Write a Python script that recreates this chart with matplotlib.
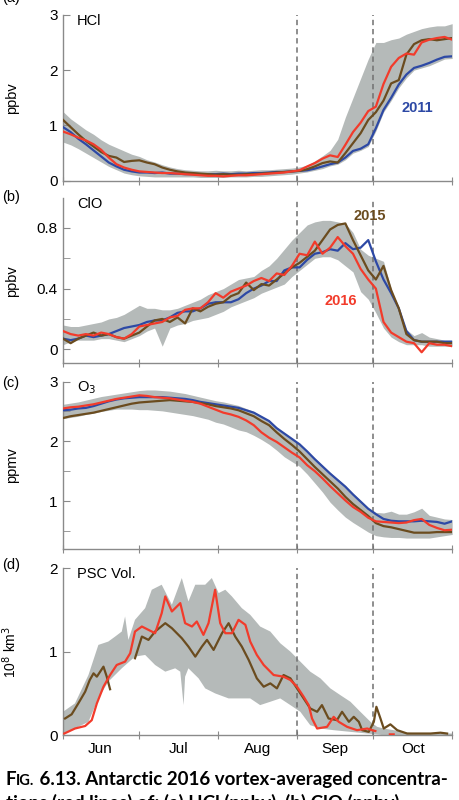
import numpy as np
import matplotlib.pyplot as plt

plt.rcParams["font.family"] = ["Liberation Sans", "DejaVu Sans"]
plt.rcParams["font.size"] = 10.5

RED = "#f23b2b"
BLUE = "#2d49a5"
BROWN = "#6b4c1f"
BAND = "#b5bab9"
AXIS = "#8a8a8a"

# x axis: days since 1 June, one value every 3 days
days = list(range(0, 154, 3))
month_starts = [0, 30, 61, 92, 122, 153]
month_mid = [14.5, 45.5, 76.5, 107, 137.5]
month_names = ["Jun", "Jul", "Aug", "Sep", "Oct"]
marker_days = [92, 122]

# (a) HCl, ppbv
hcl_lo = [0.70, 0.65, 0.58, 0.50, 0.42, 0.34, 0.26, 0.20, 0.14, 0.11,
          0.09, 0.08, 0.07, 0.07, 0.07, 0.07, 0.07, 0.07, 0.06, 0.06,
          0.06, 0.06, 0.07, 0.07, 0.07, 0.08, 0.08, 0.09, 0.10, 0.11,
          0.12, 0.14, 0.16, 0.19, 0.22, 0.27, 0.30, 0.38, 0.50, 0.55,
          0.62, 0.90, 1.24, 1.45, 1.68, 1.86, 2.00, 2.04, 2.08, 2.14, 2.20, 2.21]
hcl_hi = [1.25, 1.12, 1.02, 0.92, 0.84, 0.74, 0.66, 0.60, 0.54, 0.48,
          0.44, 0.38, 0.34, 0.29, 0.25, 0.22, 0.20, 0.19, 0.18, 0.18,
          0.19, 0.18, 0.18, 0.19, 0.18, 0.19, 0.20, 0.20, 0.21, 0.22,
          0.23, 0.25, 0.28, 0.36, 0.45, 0.55, 0.75, 1.15, 1.50, 1.85,
          2.20, 2.50, 2.50, 2.55, 2.58, 2.65, 2.70, 2.75, 2.78, 2.80, 2.80, 2.84]
hcl_2016 = [0.89, 0.84, 0.78, 0.73, 0.66, 0.56, 0.42, 0.30, 0.24, 0.20,
            0.17, 0.16, 0.15, 0.14, 0.14, 0.13, 0.12, 0.11, 0.10, 0.09,
            0.09, 0.08, 0.09, 0.10, 0.10, 0.11, 0.12, 0.13, 0.14, 0.15,
            0.17, 0.19, 0.26, 0.32, 0.40, 0.46, 0.43, 0.65, 0.88, 1.05,
            1.26, 1.34, 1.75, 2.06, 2.22, 2.30, 2.28, 2.50, 2.55, 2.58, 2.60, 2.55]
hcl_2011 = [0.97, 0.88, 0.76, 0.66, 0.55, 0.44, 0.33, 0.26, 0.20, 0.17,
            0.15, 0.15, 0.14, 0.15, 0.13, 0.13, 0.12, 0.12, 0.11, 0.12,
            0.12, 0.13, 0.12, 0.13, 0.13, 0.14, 0.14, 0.15, 0.16, 0.16,
            0.17, 0.18, 0.19, 0.22, 0.26, 0.30, 0.33, 0.42, 0.54, 0.58,
            0.66, 0.95, 1.28, 1.50, 1.74, 1.92, 2.04, 2.08, 2.13, 2.19, 2.24, 2.25]
hcl_2015 = [1.10, 0.97, 0.84, 0.72, 0.62, 0.52, 0.45, 0.42, 0.34, 0.36,
            0.37, 0.33, 0.30, 0.24, 0.20, 0.17, 0.15, 0.14, 0.13, 0.12,
            0.11, 0.12, 0.11, 0.11, 0.12, 0.12, 0.13, 0.14, 0.15, 0.16,
            0.17, 0.18, 0.21, 0.26, 0.32, 0.35, 0.33, 0.50, 0.68, 0.86,
            1.10, 1.24, 1.45, 1.76, 1.82, 2.28, 2.47, 2.54, 2.56, 2.54, 2.56, 2.58]

# (b) ClO, ppbv
clo_lo = [0.03, 0.05, 0.06, 0.06, 0.06, 0.07, 0.07, 0.06, 0.05, 0.07,
          0.09, 0.12, 0.14, 0.02, 0.14, 0.16, 0.17, 0.19, 0.20, 0.21,
          0.23, 0.25, 0.28, 0.30, 0.32, 0.34, 0.37, 0.39, 0.41, 0.43,
          0.48, 0.52, 0.56, 0.60, 0.61, 0.61, 0.59, 0.55, 0.51, 0.38,
          0.33, 0.24, 0.14, 0.08, 0.05, 0.03, 0.03, 0.03, 0.02, 0.02, 0.02, 0.02]
clo_hi = [0.16, 0.15, 0.15, 0.16, 0.17, 0.18, 0.20, 0.21, 0.23, 0.26,
          0.29, 0.27, 0.27, 0.26, 0.26, 0.27, 0.29, 0.31, 0.33, 0.36,
          0.38, 0.40, 0.43, 0.46, 0.47, 0.48, 0.52, 0.55, 0.60, 0.66,
          0.72, 0.77, 0.82, 0.84, 0.85, 0.85, 0.84, 0.83, 0.77, 0.66,
          0.62, 0.60, 0.58, 0.40, 0.25, 0.13, 0.09, 0.11, 0.08, 0.07, 0.06, 0.06]
clo_2016 = [0.12, 0.10, 0.09, 0.10, 0.09, 0.11, 0.10, 0.08, 0.07, 0.10,
            0.15, 0.16, 0.17, 0.18, 0.21, 0.22, 0.26, 0.27, 0.27, 0.31,
            0.37, 0.34, 0.38, 0.40, 0.42, 0.45, 0.47, 0.45, 0.50, 0.49,
            0.55, 0.63, 0.62, 0.71, 0.63, 0.67, 0.74, 0.68, 0.63, 0.53,
            0.46, 0.40, 0.18, 0.11, 0.08, 0.05, 0.04, -0.02, 0.04, 0.03, 0.03, 0.02]
clo_2011 = [0.07, 0.06, 0.07, 0.09, 0.08, 0.09, 0.10, 0.12, 0.14, 0.15,
            0.16, 0.18, 0.19, 0.19, 0.21, 0.24, 0.25, 0.25, 0.27, 0.30,
            0.31, 0.31, 0.31, 0.33, 0.37, 0.40, 0.42, 0.45, 0.45, 0.52,
            0.54, 0.54, 0.59, 0.63, 0.64, 0.66, 0.65, 0.70, 0.66, 0.67,
            0.72, 0.58, 0.46, 0.37, 0.27, 0.12, 0.06, 0.05, 0.05, 0.05, 0.05, 0.05]
clo_2015 = [0.07, 0.04, 0.07, 0.09, 0.11, 0.09, 0.10, 0.08, 0.07, 0.09,
            0.11, 0.15, 0.19, 0.20, 0.18, 0.21, 0.17, 0.27, 0.25, 0.28,
            0.30, 0.31, 0.35, 0.37, 0.44, 0.39, 0.43, 0.42, 0.46, 0.50,
            0.54, 0.57, 0.61, 0.65, 0.72, 0.79, 0.82, 0.83, 0.72, 0.62,
            0.52, 0.46, 0.55, 0.39, 0.27, 0.10, 0.06, 0.05, 0.05, 0.05, 0.04, 0.04]

# (c) O3, ppmv
o3_lo = [2.38, 2.40, 2.42, 2.45, 2.47, 2.50, 2.52, 2.54, 2.54, 2.54,
         2.53, 2.53, 2.52, 2.51, 2.49, 2.47, 2.45, 2.43, 2.40, 2.37,
         2.32, 2.29, 2.24, 2.19, 2.16, 2.10, 2.03, 1.95, 1.85, 1.74,
         1.66, 1.58, 1.45, 1.30, 1.15, 0.98, 0.85, 0.73, 0.64, 0.56,
         0.48, 0.42, 0.40, 0.39, 0.39, 0.38, 0.38, 0.38, 0.38, 0.40, 0.42, 0.44]
o3_hi = [2.62, 2.64, 2.66, 2.69, 2.72, 2.75, 2.77, 2.79, 2.81, 2.83,
         2.85, 2.86, 2.86, 2.85, 2.84, 2.82, 2.80, 2.77, 2.74, 2.71,
         2.68, 2.66, 2.63, 2.60, 2.55, 2.50, 2.42, 2.35, 2.24, 2.14,
         2.05, 1.96, 1.84, 1.72, 1.60, 1.48, 1.37, 1.26, 1.13, 1.01,
         0.89, 0.81, 0.80, 0.83, 0.78, 0.78, 0.82, 0.88, 0.76, 0.73, 0.70, 0.69]
o3_2016 = [2.55, 2.57, 2.58, 2.60, 2.62, 2.65, 2.68, 2.71, 2.73, 2.75,
           2.77, 2.76, 2.74, 2.73, 2.72, 2.70, 2.68, 2.66, 2.63, 2.58,
           2.53, 2.48, 2.45, 2.41, 2.35, 2.27, 2.15, 2.06, 1.99, 1.90,
           1.81, 1.73, 1.60, 1.50, 1.38, 1.25, 1.13, 1.01, 0.90, 0.82,
           0.72, 0.66, 0.65, 0.64, 0.63, 0.64, 0.68, 0.70, 0.60, 0.55, 0.51, 0.52]
o3_2011 = [2.52, 2.53, 2.55, 2.56, 2.59, 2.63, 2.67, 2.70, 2.72, 2.73,
           2.74, 2.74, 2.74, 2.74, 2.73, 2.72, 2.71, 2.69, 2.66, 2.64,
           2.62, 2.60, 2.58, 2.56, 2.52, 2.48, 2.41, 2.34, 2.22, 2.13,
           2.04, 1.95, 1.83, 1.70, 1.58, 1.46, 1.35, 1.24, 1.11, 0.99,
           0.87, 0.78, 0.70, 0.67, 0.66, 0.66, 0.66, 0.67, 0.66, 0.65, 0.62, 0.66]
o3_2015 = [2.39, 2.42, 2.44, 2.46, 2.48, 2.51, 2.54, 2.57, 2.60, 2.63,
           2.65, 2.66, 2.67, 2.68, 2.69, 2.68, 2.67, 2.66, 2.64, 2.62,
           2.59, 2.57, 2.55, 2.52, 2.47, 2.42, 2.34, 2.27, 2.15, 2.04,
           1.94, 1.83, 1.70, 1.57, 1.45, 1.33, 1.21, 1.07, 0.95, 0.85,
           0.75, 0.63, 0.58, 0.56, 0.53, 0.50, 0.47, 0.47, 0.47, 0.48, 0.48, 0.48]

# (d) PSC volume, 10^8 km^3 (each series has its own days)
psc_hi_day = [0, 4.7, 10, 13.9, 17.8, 20.5, 23.1, 24.4, 25.7, 28.3, 32.3, 34.9,
              38.8, 42.8, 46.7, 49.3, 52, 55.9, 58.5, 61.2, 63.8, 66.4, 70.3,
              73.6, 77.5, 81.5, 85.4, 89.4, 93.3, 97.2, 101.2, 105.1, 109, 113,
              116.9, 120.9, 123.5, 126, 130, 135.3, 140, 153]
psc_hi = [0.28, 0.38, 0.72, 1.08, 1.12, 1.18, 1.24, 1.42, 1.14, 1.38, 1.52, 1.74,
          1.80, 1.56, 1.88, 1.60, 1.80, 1.80, 1.88, 1.70, 1.74, 1.66, 1.52,
          1.44, 1.30, 1.24, 1.10, 1.00, 0.88, 0.76, 0.68, 0.56, 0.48, 0.40,
          0.28, 0.16, 0.10, 0.08, 0.06, 0.03, 0.02, 0.02]
psc_lo_day = [0, 4.7, 10, 13.9, 17.8, 23.1, 28.3, 32.3, 36.2, 40.2, 44.1, 46.1,
              47.4, 48, 49.3, 53.3, 55.9, 59.8, 65.1, 70.3, 73.6, 77.5, 81.5,
              85.4, 89.4, 93.3, 97.2, 101.2, 106.4, 113, 119.6, 126, 153]
psc_lo = [0.02, 0.08, 0.16, 0.44, 0.64, 0.80, 0.94, 0.96, 0.84, 0.76, 0.80, 0.76,
          0.36, 0.70, 0.80, 0.68, 0.56, 0.50, 0.44, 0.44, 0.44, 0.36, 0.40,
          0.44, 0.36, 0.28, 0.12, 0.08, 0.06, 0.04, 0.02, 0.0, 0.0]
psc_2016_day = [0.5, 4.7, 8.7, 11.3, 13.3, 15.9, 18.5, 21.1, 24.4, 26.4,
                28.3, 31, 33.6, 36.2, 38.8, 40.2, 42.8, 46.1, 48, 50.7,
                52.6, 55.2, 57.2, 59.8, 61.8, 63.8, 66.4, 69, 71.7, 73.6,
                76.2, 78.9, 82.8, 86.7, 89.4, 92, 94.6, 96.6, 97.9, 99.9,
                103.8, 106.4, 108.4, 111.7, 115.6, 119.6, 121.5, 122.8,
                125, 128.5, 130]
psc_2016 = [0.02, 0.08, 0.11, 0.18, 0.38, 0.58, 0.72, 0.84, 0.88, 0.98,
            1.24, 1.30, 1.26, 1.22, 1.46, 1.66, 1.48, 1.58, 1.34, 1.30,
            1.36, 1.20, 1.34, 1.74, 1.34, 1.22, 1.22, 1.38, 1.32, 1.12,
            0.96, 0.84, 0.72, 0.70, 0.66, 0.58, 0.46, 0.36, 0.20, 0.08,
            0.10, 0.22, 0.16, 0.10, 0.06, 0.08, 0.06, 0.05,
            np.nan, 0.01, 0.01]
psc_2015_day = [0.8, 3.4, 6, 8.7, 10.5, 12, 13.3, 14.6, 15.9, 17.2, 18.5, 23,
                28.3, 31, 33.6, 36.2, 40.2, 42.8, 46.7, 49.3, 52, 54.6,
                56.6, 59.2, 62.5, 65.1, 67.7, 70.3, 73, 76.2, 78.9, 81.5,
                84.1, 86.7, 89.4, 92, 94.6, 97.2, 99.9, 101.8, 104.4, 107.7,
                109.7, 112.4, 114.3, 116.3, 117.6, 120.2, 122.2, 123.2, 124.8, 126.1,
                128.7, 131.4, 135.3, 139.2, 144.5, 148.4, 151]
psc_2015 = [0.20, 0.25, 0.38, 0.52, 0.66, 0.74, 0.70, 0.76, 0.82, 0.70, 0.55, np.nan,
            0.92, 1.18, 1.14, 1.24, 1.34, 1.28, 1.16, 1.06, 0.94, 1.06,
            1.14, 1.02, 1.22, 1.34, 1.18, 1.06, 0.90, 0.68, 0.58, 0.62,
            0.56, 0.72, 0.68, 0.56, 0.44, 0.32, 0.28, 0.36, 0.20, 0.18,
            0.28, 0.16, 0.22, 0.16, 0.06, 0.04, 0.16, 0.34, 0.20, 0.08,
            0.13, 0.06, 0.02, 0.02, 0.02, 0.03, 0.02]

fig = plt.figure(figsize=(4.6, 8), dpi=100)
boxes = [[0.137, 0.774, 0.846, 0.2075],
         [0.137, 0.546, 0.846, 0.206],
         [0.137, 0.314, 0.846, 0.209],
         [0.137, 0.081, 0.846, 0.209]]
axes = [fig.add_axes(b) for b in boxes]


def style(ax, ylim, major, labels, minor, ylabel, title):
    ax.set_xlim(0, 153)
    ax.set_ylim(*ylim)
    for side in ("top", "right"):
        ax.spines[side].set_visible(False)
    for side in ("left", "bottom"):
        ax.spines[side].set_color(AXIS)
        ax.spines[side].set_linewidth(1.0)
    ax.set_yticks(major)
    ax.set_yticklabels(labels)
    ax.set_yticks(minor, minor=True)
    ax.tick_params(axis="y", which="both", direction="in", length=5,
                   color=AXIS, pad=4, labelsize=11)
    ax.set_xticks(month_starts)
    ax.set_xticklabels([])
    ax.tick_params(axis="x", which="major", direction="inout", length=6, color=AXIS)
    ax.set_ylabel(ylabel, fontsize=10.5)
    ax.yaxis.set_label_coords(-0.112, 0.5)
    ax.text(0.036, 0.965, title, transform=ax.transAxes, fontsize=10.5,
            ha="left", va="center")
    for d in marker_days:
        ax.axvline(d, color="#707070", lw=1.1, ls=(0, (3.5, 2.5)), zorder=2)


def band(ax, lo, hi):
    ax.fill_between(days, lo, hi, color=BAND, lw=0, zorder=1)


ax = axes[0]
band(ax, hcl_lo, hcl_hi)
ax.plot(days, hcl_2011, color=BLUE, lw=1.6, zorder=3)
ax.plot(days, hcl_2015, color=BROWN, lw=1.6, zorder=3)
ax.plot(days, hcl_2016, color=RED, lw=1.6, zorder=4)
style(ax, (0, 3), [0, 1, 2, 3], ["0", "1", "2", "3"], [], "ppbv", "HCl")
ax.text(139.4, 1.32, "2011", color=BLUE, fontsize=10.5, fontweight="bold",
        ha="center", va="center")

ax = axes[1]
band(ax, clo_lo, clo_hi)
ax.plot(days, clo_2011, color=BLUE, lw=1.6, zorder=3)
ax.plot(days, clo_2015, color=BROWN, lw=1.6, zorder=3)
ax.plot(days, clo_2016, color=RED, lw=1.6, zorder=4)
style(ax, (-0.092, 0.995), [0, 0.4, 0.8], ["0", "0.4", "0.8"], [0.2, 0.6],
      "ppbv", "ClO")
ax.text(120.5, 0.88, "2015", color=BROWN, fontsize=10.5, fontweight="bold",
        ha="center", va="center")
ax.text(109, 0.32, "2016", color=RED, fontsize=10.5, fontweight="bold",
        ha="center", va="center")

ax = axes[2]
band(ax, o3_lo, o3_hi)
ax.plot(days, o3_2011, color=BLUE, lw=1.6, zorder=3)
ax.plot(days, o3_2015, color=BROWN, lw=1.6, zorder=3)
ax.plot(days, o3_2016, color=RED, lw=1.6, zorder=4)
style(ax, (0.2, 3.0), [1, 2, 3], ["1", "2", "3"], [0.5, 1.5, 2.5],
      "ppmv", "O$_3$")

ax = axes[3]
ax.fill(np.r_[psc_hi_day, psc_lo_day[::-1]], np.r_[psc_hi, psc_lo[::-1]],
        color=BAND, lw=0, zorder=1)
ax.plot(psc_2015_day, psc_2015, color=BROWN, lw=1.6, zorder=3)
ax.plot(psc_2016_day, psc_2016, color=RED, lw=1.6, zorder=4)
style(ax, (0, 2), [0, 1, 2], ["0", "1", "2"], [], "10$^8$ km$^3$", "PSC Vol.")
ax.yaxis.label.set_fontsize(10)
ax.set_xticks(month_mid, minor=True)
ax.set_xticklabels(month_names, minor=True, fontsize=11)
ax.tick_params(axis="x", which="minor", length=0, pad=5)

for lab, y in (("(a)", 1.002), ("(b)", 0.754), ("(c)", 0.521), ("(d)", 0.294)):
    fig.text(0.004, y, lab, fontsize=10.5, ha="left", va="center")

# caption, "Fig." in small capitals
cap = dict(fontweight="bold", family=["Lato", "DejaVu Sans"], va="bottom", ha="left")
t1 = fig.text(0.012, 0.015, "F", fontsize=13.5, **cap)
t2 = fig.text(0, 0, "IG.", fontsize=10.5, **cap)
t2.remove()
t2 = plt.annotate("IG.", xy=(1, 0), xycoords=t1, fontsize=10.5,
                  annotation_clip=False, **cap)
plt.annotate(" 6.13. Antarctic 2016 vortex-averaged concentra-", xy=(1, 0),
             xycoords=t2, fontsize=13.5, annotation_clip=False, **cap)
fig.text(0.012, 0.0075, "tions (red lines) of: (a) HCl (ppbv), (b) ClO (ppbv),",
         fontsize=13.5, fontweight="bold", family=["Lato", "DejaVu Sans"],
         ha="left", va="top")

fig.savefig("out.png", dpi=100)
